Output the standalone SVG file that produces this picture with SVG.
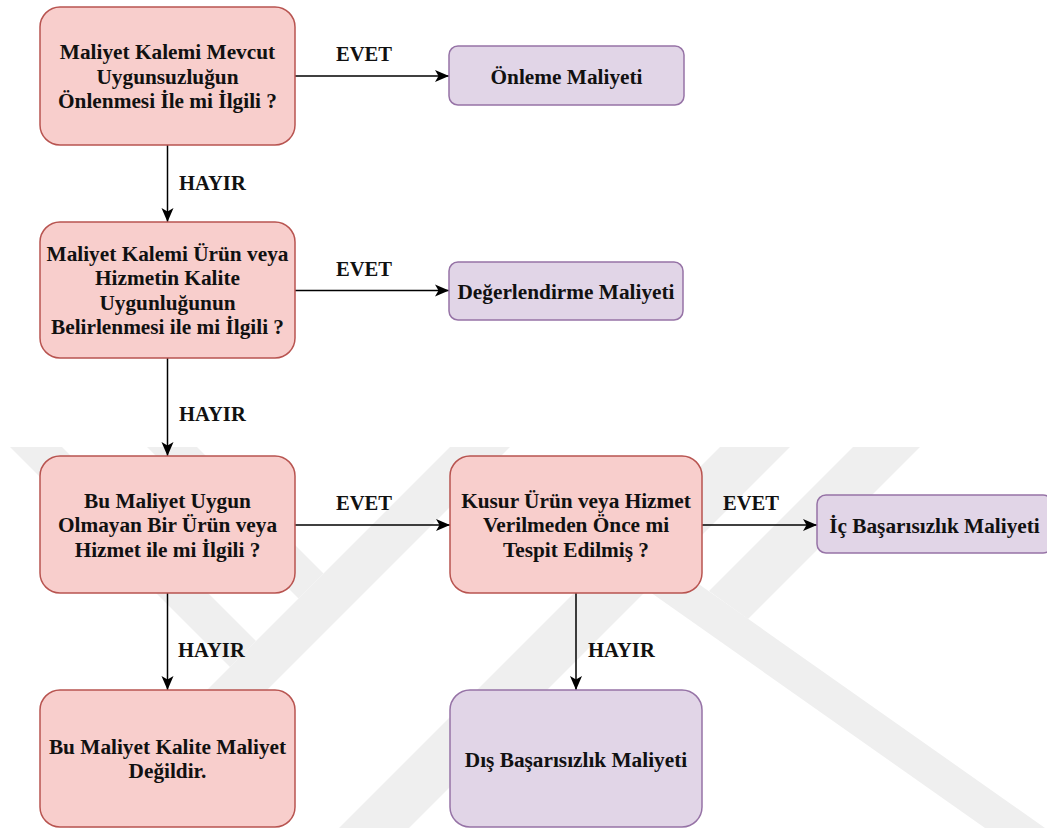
<svg xmlns="http://www.w3.org/2000/svg" width="1047" height="828" viewBox="0 0 1047 828">
<style>
.red{fill:#f8cecc;stroke:#b85450;stroke-width:1.5}
.pur{fill:#e1d5e7;stroke:#9673a6;stroke-width:1.5}
.edge{stroke:#000;stroke-width:1.5;fill:none;marker-end:url(#arr)}
.wm{fill:#efefef}
</style>
<defs>
<marker id="arr" markerUnits="userSpaceOnUse" markerWidth="15" markerHeight="13" viewBox="0 0 15 13" refX="14" refY="6.5" orient="auto">
<path d="M0,0.5 L14,6.5 L0,12.5 L3.5,6.5 Z" fill="#000"/>
</marker>
</defs>
<rect width="1047" height="828" fill="#fff"/>
<g id="watermark">
<polygon class="wm" points="10,447 62,447 256,641 230,667"/>
<polygon class="wm" points="147,447 197,447 323.5,573.5 298.5,598.5"/>
<polygon class="wm" points="450,447 510,447 129,828 69,828"/>
<polygon class="wm" points="720,447 790,447 409,828 339,828"/>
<polygon class="wm" points="853,447 920,447 748,619 709,591"/>
<polygon class="wm" points="640,585 700,585 1045,828 985,828"/>
</g>
<g id="connectors">
<line class="edge" x1="295" y1="76" x2="449" y2="76"/>
<line class="edge" x1="167.5" y1="145" x2="167.5" y2="222"/>
<line class="edge" x1="295" y1="290.5" x2="449" y2="290.5"/>
<line class="edge" x1="167.5" y1="358" x2="167.5" y2="456"/>
<line class="edge" x1="295" y1="525" x2="450" y2="525"/>
<line class="edge" x1="702" y1="525" x2="817" y2="525"/>
<line class="edge" x1="167.5" y1="593" x2="167.5" y2="690"/>
<line class="edge" x1="576" y1="593" x2="576" y2="690"/>
<text font-family="Liberation Serif" font-size="20.6" font-weight="bold" fill="#111" x="336" y="61">EVET</text>
<text font-family="Liberation Serif" font-size="20.6" font-weight="bold" fill="#111" x="336" y="275.5">EVET</text>
<text font-family="Liberation Serif" font-size="20.6" font-weight="bold" fill="#111" x="336" y="509.5">EVET</text>
<text font-family="Liberation Serif" font-size="20.6" font-weight="bold" fill="#111" x="723" y="509.5">EVET</text>
<text font-family="Liberation Serif" font-size="20.6" font-weight="bold" fill="#111" x="179" y="189.5">HAYIR</text>
<text font-family="Liberation Serif" font-size="20.6" font-weight="bold" fill="#111" x="179" y="420.5">HAYIR</text>
<text font-family="Liberation Serif" font-size="20.6" font-weight="bold" fill="#111" x="178" y="656.5">HAYIR</text>
<text font-family="Liberation Serif" font-size="20.6" font-weight="bold" fill="#111" x="588" y="656.5">HAYIR</text>
</g>
<g id="n1">
<rect class="red" x="40" y="7" width="255" height="138" rx="20" ry="20"/>
<text font-family="Liberation Serif" font-size="21.3" font-weight="bold" fill="#111" text-anchor="middle" x="167.5" y="59">Maliyet Kalemi Mevcut</text>
<text font-family="Liberation Serif" font-size="21.3" font-weight="bold" fill="#111" text-anchor="middle" x="167.5" y="83.5">Uygunsuzluğun</text>
<text font-family="Liberation Serif" font-size="21.3" font-weight="bold" fill="#111" text-anchor="middle" x="167.5" y="108">Önlenmesi İle mi İlgili ?</text>
</g>
<g id="n2">
<rect class="pur" x="449" y="46" width="235" height="59" rx="9" ry="9"/>
<text font-family="Liberation Serif" font-size="21.3" font-weight="bold" fill="#111" text-anchor="middle" x="566.5" y="84">Önleme Maliyeti</text>
</g>
<g id="n3">
<rect class="red" x="40" y="222" width="255" height="136" rx="20" ry="20"/>
<text font-family="Liberation Serif" font-size="21.3" font-weight="bold" fill="#111" text-anchor="middle" x="167.5" y="260.75">Maliyet Kalemi Ürün veya</text>
<text font-family="Liberation Serif" font-size="21.3" font-weight="bold" fill="#111" text-anchor="middle" x="167.5" y="285.25">Hizmetin Kalite</text>
<text font-family="Liberation Serif" font-size="21.3" font-weight="bold" fill="#111" text-anchor="middle" x="167.5" y="309.75">Uygunluğunun</text>
<text font-family="Liberation Serif" font-size="21.3" font-weight="bold" fill="#111" text-anchor="middle" x="167.5" y="334.25">Belirlenmesi ile mi İlgili ?</text>
</g>
<g id="n4">
<rect class="pur" x="449" y="262" width="234" height="58" rx="9" ry="9"/>
<text font-family="Liberation Serif" font-size="21.3" font-weight="bold" fill="#111" text-anchor="middle" x="566" y="299">Değerlendirme Maliyeti</text>
</g>
<g id="n5">
<rect class="red" x="40" y="456" width="255" height="137" rx="20" ry="20"/>
<text font-family="Liberation Serif" font-size="21.3" font-weight="bold" fill="#111" text-anchor="middle" x="167.5" y="507.5">Bu Maliyet Uygun</text>
<text font-family="Liberation Serif" font-size="21.3" font-weight="bold" fill="#111" text-anchor="middle" x="167.5" y="532">Olmayan Bir Ürün veya</text>
<text font-family="Liberation Serif" font-size="21.3" font-weight="bold" fill="#111" text-anchor="middle" x="167.5" y="556.5">Hizmet ile mi İlgili ?</text>
</g>
<g id="n6">
<rect class="red" x="450" y="456" width="252" height="137" rx="20" ry="20"/>
<text font-family="Liberation Serif" font-size="21.3" font-weight="bold" fill="#111" text-anchor="middle" x="576" y="507.5">Kusur Ürün veya Hizmet</text>
<text font-family="Liberation Serif" font-size="21.3" font-weight="bold" fill="#111" text-anchor="middle" x="576" y="532">Verilmeden Önce mi</text>
<text font-family="Liberation Serif" font-size="21.3" font-weight="bold" fill="#111" text-anchor="middle" x="576" y="556.5">Tespit Edilmiş ?</text>
</g>
<g id="n7">
<rect class="pur" x="817" y="495" width="235" height="58" rx="9" ry="9"/>
<text font-family="Liberation Serif" font-size="21.3" font-weight="bold" fill="#111" text-anchor="middle" x="934.5" y="532.5">İç Başarısızlık Maliyeti</text>
</g>
<g id="n8">
<rect class="red" x="40" y="690" width="255" height="137" rx="20" ry="20"/>
<text font-family="Liberation Serif" font-size="21.3" font-weight="bold" fill="#111" text-anchor="middle" x="167.5" y="753.75">Bu Maliyet Kalite Maliyet</text>
<text font-family="Liberation Serif" font-size="21.3" font-weight="bold" fill="#111" text-anchor="middle" x="167.5" y="778.25">Değildir.</text>
</g>
<g id="n9">
<rect class="pur" x="450" y="690" width="252" height="137" rx="20" ry="20"/>
<text font-family="Liberation Serif" font-size="21.3" font-weight="bold" fill="#111" text-anchor="middle" x="576" y="766.5">Dış Başarısızlık Maliyeti</text>
</g>
</svg>
